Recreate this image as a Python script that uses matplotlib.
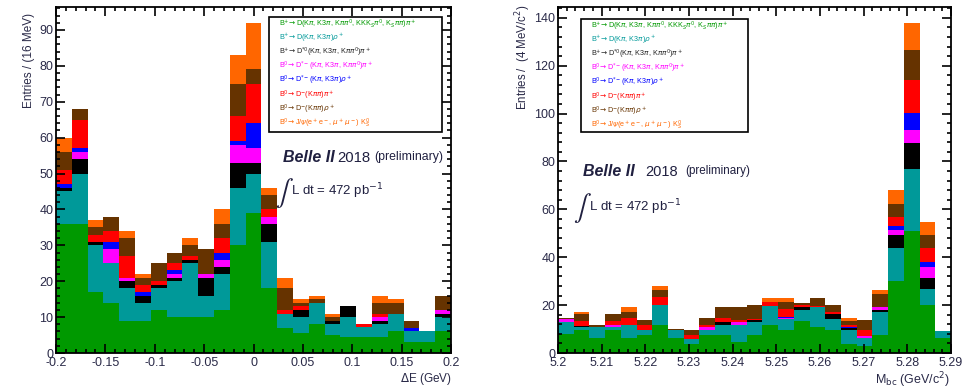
import numpy as np
import matplotlib
matplotlib.use("Agg")
import matplotlib.pyplot as plt
from matplotlib.ticker import MultipleLocator, FuncFormatter
from matplotlib.patches import Rectangle

plt.rcParams['font.family'] = ['Liberation Sans', 'DejaVu Sans']
plt.rcParams['axes.unicode_minus'] = False

# components, bottom -> top of the stack
labels = [
    r"B$^{+}\!\to$D(K$\pi$, K3$\pi$, K$\pi\pi^0$, KKK$_S\pi^0$, K$_S\pi\pi$)$\pi^+$",
    r"B$^{+}\!\to$D(K$\pi$, K3$\pi$)$\rho^+$",
    r"B$^{+}\!\to$D$^{*0}$(K$\pi$, K3$\pi$, K$\pi\pi^0$)$\pi^+$",
    r"B$^{0}\!\to$D$^{*-}$(K$\pi$, K3$\pi$, K$\pi\pi^0$)$\pi^+$",
    r"B$^{0}\!\to$D$^{*-}$(K$\pi$, K3$\pi$)$\rho^+$",
    r"B$^{0}\!\to$D$^{-}$(K$\pi\pi$)$\pi^+$",
    r"B$^{0}\!\to$D$^{-}$(K$\pi\pi$)$\rho^+$",
    r"B$^{0}\!\to$J/$\psi$(e$^+$e$^-$, $\mu^+\mu^-$) K$^0_S$",
]
colors = ["#009900", "#009999", "#000000", "#ff00ff", "#0000ff", "#ff0000", "#663300", "#ff6600"]

# delta E histogram, 25 bins in [-0.2, 0.2]
de_range = (-0.2, 0.2)
de_green   = [36, 36, 17, 14, 9, 9, 12, 10, 10, 10, 12, 30, 39, 18, 7, 5.5, 8, 5, 4.5, 4.5, 4.4, 6, 3, 3, 6]
de_teal    = [9, 14, 13, 11, 9, 5, 6, 10, 15, 6, 10, 16, 11, 13, 4, 4.5, 6, 3, 5.5, 2.8, 3.6, 5, 3, 3, 4]
de_black   = [1, 4, 1, 0, 2, 2, 1, 1, 1, 5, 2, 7, 3, 5, 0, 2, 0, 1, 3, 0, 1, 0, 0, 0, 1]
de_magenta = [0, 2, 0, 4, 1, 0, 0, 1, 0, 1, 2, 5, 4, 2, 0, 0, 0, 0, 0, 0, 1, 0, 0, 0, 1]
de_blue    = [1, 1, 0, 2, 0, 1, 0, 1, 0, 0, 2, 1, 7, 0, 0, 0, 0, 0, 0, 0, 0, 0, 1, 0, 0]
de_red     = [4, 8, 2, 3, 6, 2, 1, 2, 1, 0, 4, 7, 11, 2, 1, 1, 0, 0, 0, 0.7, 1, 0, 0, 0, 0]
de_brown   = [5, 3, 2, 4, 5, 2, 5, 3, 3, 7, 4, 9, 4, 4, 6, 1, 1, 1, 0, 0, 3, 3, 2, 0, 4]
de_orange  = [4, 0, 2, 0, 2, 1, 0, 0, 2, 0, 4, 8, 13, 2, 3, 1, 1, 1, 0, 0, 2, 1, 0, 0, 0]

# Mbc histogram, 25 bins in [5.2, 5.29]
mbc_range = (5.2, 5.29)
mbc_green   = [8, 9.4, 6.3, 9.4, 6.2, 7.7, 11.5, 6.3, 3.8, 7.7, 7.7, 4.5, 7.5, 11.5, 9.7, 13.2, 10.8, 9.4, 3.8, 3.1, 7.7, 29.9, 50.8, 20.1, 6.2]
mbc_teal    = [5, 1.6, 4.5, 1.6, 5.3, 2.1, 8.6, 3.1, 2.1, 2.1, 3.8, 7, 5.5, 8.3, 4.6, 4.6, 8.3, 4.9, 5.6, 3.2, 9.3, 14, 26.1, 6.7, 2.9]
mbc_black   = [0, 0.3, 0, 0, 0, 0, 0, 0, 0, 0, 1.4, 0, 0.6, 0, 0, 1.3, 0, 2.1, 1, 0, 0.8, 5.2, 10.7, 4.6, 0]
mbc_magenta = [1, 0, 0, 0.9, 0, 0, 0, 0, 0, 1.2, 0, 1.4, 0, 0, 0.4, 0, 0, 0, 0, 0.7, 1.3, 2.4, 5.6, 4.4, 0]
mbc_blue    = [0, 0, 0, 0, 0, 0, 0, 0, 0, 0, 0, 0, 0, 0, 0.5, 0, 0, 0, 0.6, 0, 0, 1.5, 7, 2.1, 0]
mbc_red     = [0, 2, 0, 1.4, 3, 2.1, 3.2, 0, 1.8, 0.5, 1.6, 1, 0.7, 1.7, 3, 0.9, 0.7, 0.6, 0.9, 2.4, 0, 3.7, 13.9, 6, 0]
mbc_brown   = [0.5, 3.1, 0.7, 3.1, 2.5, 2, 3.1, 0.7, 1.7, 3.2, 4.6, 5.2, 5.7, 0, 3, 0.8, 3.2, 3, 1.4, 4.5, 5.6, 5.6, 12.3, 5.2, 0]
mbc_orange  = [0, 0.6, 0, 0, 2.1, 0, 1.4, 0, 0, 0, 0, 0, 0, 1.5, 1.8, 0, 0, 0, 1.2, 0, 1.7, 5.6, 11.5, 5.8, 0]

de_stack = [de_green, de_teal, de_black, de_magenta, de_blue, de_red, de_brown, de_orange]
mbc_stack = [mbc_green, mbc_teal, mbc_black, mbc_magenta, mbc_blue, mbc_red, mbc_brown, mbc_orange]

W, H = 965, 389
TXT = "#202040"
fig = plt.figure(figsize=(W / 100, H / 100), dpi=100)

def px_axes(x0, y0, x1, y1):
    return fig.add_axes([x0 / W, 1 - y1 / H, (x1 - x0) / W, (y1 - y0) / H])

def put(x, y, s, **kw):
    return fig.text(x / W, 1 - y / H, s, **kw)

def draw_stack(ax, rng, stack):
    edges = np.linspace(rng[0], rng[1], len(stack[0]) + 1)
    bottom = np.zeros(len(stack[0]))
    for vals, c in zip(stack, colors):
        vals = np.asarray(vals, float)
        ax.bar(edges[:-1], vals, width=np.diff(edges), bottom=bottom, align="edge",
               color=c, linewidth=0)
        bottom += vals

def style(ax, xmaj, xmin, ymaj, ymin):
    ax.xaxis.set_major_locator(MultipleLocator(xmaj))
    ax.xaxis.set_minor_locator(MultipleLocator(xmin))
    ax.yaxis.set_major_locator(MultipleLocator(ymaj))
    ax.yaxis.set_minor_locator(MultipleLocator(ymin))
    ax.xaxis.set_major_formatter(FuncFormatter(lambda v, p: f"{round(v, 4):g}"))
    ax.yaxis.set_major_formatter(FuncFormatter(lambda v, p: f"{v:g}"))
    ax.tick_params(which="both", direction="in", top=True, right=True, width=1.2,
                   labelsize=9, labelcolor="#2a2a48", pad=2)
    ax.tick_params(axis="x", pad=3)
    ax.tick_params(which="major", length=6.5)
    ax.tick_params(which="minor", length=3.2)
    for s in ax.spines.values():
        s.set_linewidth(1.3)

def legend_box(x0, y0, x1, y1):
    r = Rectangle((x0 / W, 1 - y1 / H), (x1 - x0) / W, (y1 - y0) / H, transform=fig.transFigure,
                  fill=True, facecolor="white", edgecolor="black", linewidth=1.2, zorder=5)
    fig.patches.append(r)
    for i, (lab, c) in enumerate(zip(labels, colors)):
        col = "#222222" if c == "#000000" else c
        put(x0 + 10, y0 + 7 + i * 14.2, lab, fontsize=5.2, color=col, va="center", ha="left", zorder=6)

# left panel: delta E
ax1 = px_axes(56, 7, 451, 353)
draw_stack(ax1, de_range, de_stack)
ax1.set_xlim(*de_range)
ax1.set_ylim(0, 96.4)
style(ax1, 0.05, 0.01, 10, 2)
legend_box(269, 17, 442, 132)
put(29, 13, "Entries / (16 MeV)", rotation=90, ha="center", va="top", fontsize=8.5, color="#2a2a48")
put(452, 379, r"$\Delta$E (GeV)", ha="right", va="center", fontsize=8.5, color="#2a2a48")
put(283, 158, "Belle II", fontsize=11.5, fontweight="bold", fontstyle="italic", va="center", color=TXT)
put(337, 158, "2018", fontsize=10.7, va="center", color=TXT)
put(374, 157, "(preliminary)", fontsize=8.8, va="center", color=TXT)
put(275, 193, r"$\int$", fontsize=19, va="center", color=TXT, math_fontfamily="stix")
put(291, 191, r"L dt = 472 pb$^{-1}$", fontsize=9.5, va="center", color=TXT)

# right panel: Mbc
ax2 = px_axes(558, 7, 951, 353)
draw_stack(ax2, mbc_range, mbc_stack)
ax2.set_xlim(*mbc_range)
ax2.set_ylim(0, 144.5)
style(ax2, 0.01, 0.002, 20, 4)
legend_box(581, 19, 748, 132)
put(523, 5, r"Entries /  (4 MeV/c$^2$)", rotation=90, ha="center", va="top", fontsize=8.3, color="#2a2a48")
put(950, 380, r"M$_{\rm bc}$ (GeV/c$^2$)", ha="right", va="center", fontsize=9, color="#2a2a48")
put(583, 172, "Belle II", fontsize=11.5, fontweight="bold", fontstyle="italic", va="center", color=TXT)
put(645, 172, "2018", fontsize=10.5, va="center", color=TXT)
put(685, 171, "(preliminary)", fontsize=8.4, va="center", color=TXT)
put(573, 208, r"$\int$", fontsize=19, va="center", color=TXT, math_fontfamily="stix")
put(589, 207, r"L dt = 472 pb$^{-1}$", fontsize=9.5, va="center", color=TXT)

fig.savefig("out.png", dpi=100)
